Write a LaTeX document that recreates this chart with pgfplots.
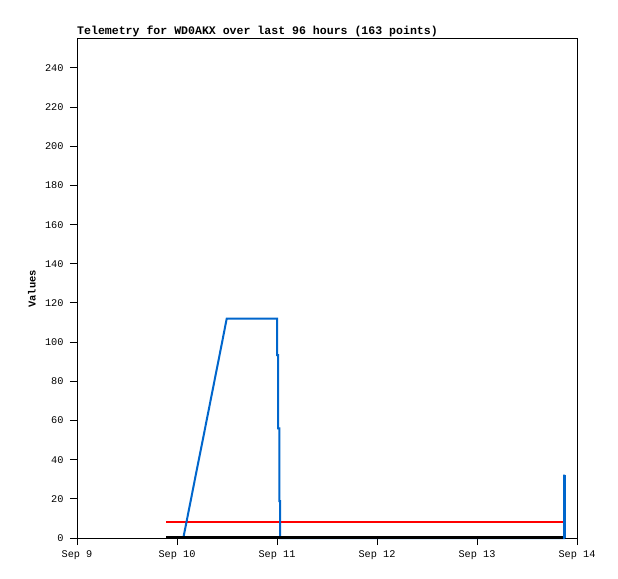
\documentclass[border=0pt]{standalone}
\usepackage{pgfplots}
\pgfplotsset{compat=1.18}
\usepackage{fontspec}
\setmainfont{Liberation Mono}
\setmonofont{Liberation Mono}
\definecolor{tblue}{HTML}{0066CC}
\begin{document}
\begin{tikzpicture}
\path[use as bounding box] (0,0) rectangle (618bp,579bp);
\node[anchor=base west, inner sep=0pt, font=\fontsize{11.6}{12}\selectfont\bfseries] at (77bp,544bp) {Telemetry for WD0AKX over last 96 hours (163 points)};
\node[rotate=90, inner sep=0pt, font=\fontsize{10.5}{11}\selectfont\bfseries] at (32bp,290bp) {Values};
\begin{axis}[
  at={(77bp,41bp)}, anchor=south west,
  scale only axis, width=500bp, height=500bp,
  xmin=0, xmax=5, ymin=0, ymax=255.3,
  xtick={0,1,2,3,4,5},
  xticklabels={Sep 9,Sep 10,Sep 11,Sep 12,Sep 13,Sep 14},
  ytick={0,20,...,240},
  tick align=outside, major tick length=7bp,
  xtick pos=bottom, ytick pos=left,
  tick style={black, line width=1pt},
  axis line style={line width=0.8pt},
  /pgf/number format/assume math mode=true,
  ticklabel style={font=\fontsize{10.3}{11}\selectfont},
  xticklabel style={yshift=-2bp},
  yticklabel style={xshift=-3bp},
  clip=false,
]
\addplot[red, line width=2bp] coordinates {(0.89,8.1) (4.855,8.1)};
\addplot[tblue, line width=2bp, line join=miter] coordinates {
(1.063,0) (1.10,9.5) (1.15,22.4) (1.20,35.4) (1.25,48.1) (1.30,61.0) (1.35,73.9) (1.40,86.8) (1.45,99.7) (1.497,112)
(1.75,112) (2.00,112)
(2.00,93.4) (2.01,93.4) (2.01,56) (2.023,56) (2.023,18.8) (2.03,18.8) (2.03,0)
(4.86,0) (4.87,0) (4.87,32.3)};
\addplot[tblue, line width=3bp] coordinates {(4.87,0) (4.87,32.3)};
\addplot[black, line width=2.6bp] coordinates {(0.89,0.2) (4.86,0.2)};
\end{axis}
\end{tikzpicture}
\end{document}
